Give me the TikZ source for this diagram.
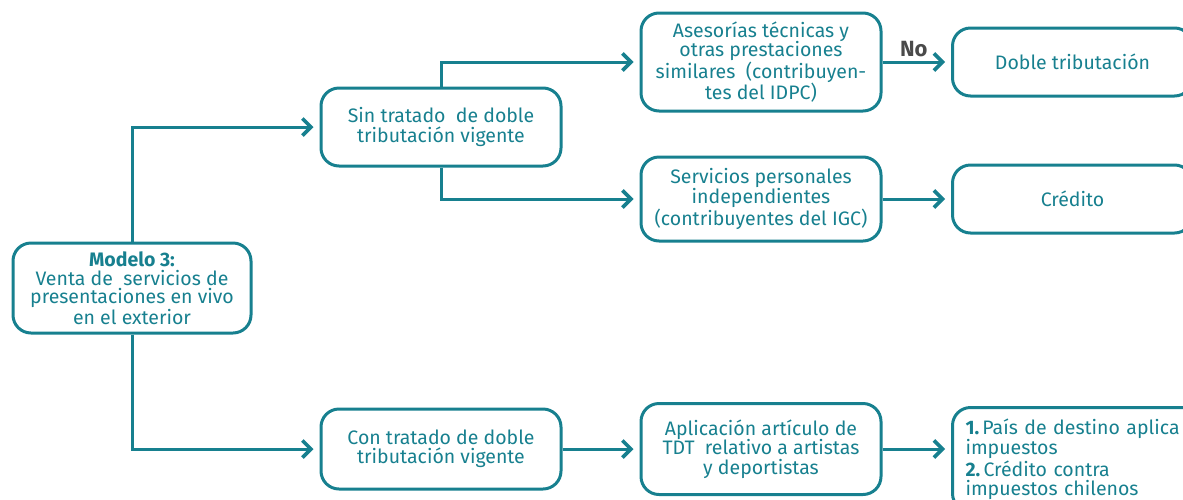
\documentclass[tikz,border=0pt]{standalone}
\usepackage{fontspec}
\setmainfont{Fira Sans}
\usetikzlibrary{positioning, arrows.meta}
\definecolor{petrol}{HTML}{17808F}
\definecolor{nogray}{HTML}{4A4A4A}

\begin{document}
\begin{tikzpicture}[x=1pt, y=-1pt,
    caja/.style={rectangle, rounded corners=18pt, draw=petrol, line width=3pt, text=petrol, align=center, minimum width=240pt, inner sep=1pt, font=\fontsize{19.5}{19.5}\selectfont},
    flecha/.style={draw=petrol, line width=3pt, shorten >=6pt, -{Straight Barb[length=8.5pt, width=17pt, line width=3.6pt]}}]
    \useasboundingbox (0,0) rectangle (1183,499);
    \clip (0,0) rectangle (1183,499);

    \node[caja, minimum height=90pt, minimum width=238pt, font=\fontsize{19.5}{18.7}\selectfont] (modelo) at (132,288) {\textbf{Modelo 3:}\\Venta de~ servicios de\\presentaciones en vivo\\en el exterior};
    \node[caja, minimum height=78pt] (sin) at (441,127) {Sin tratado~ de doble\\tributación vigente};
    \node[caja, minimum height=80pt] (con) at (441,449) {Con tratado de doble\\tributación vigente};

    \node[caja, minimum height=98pt] (ases) at (761,62) {Asesorías técnicas y\\otras prestaciones\\similares~ (contribuyen-\\tes del IDPC)};
    \node[caja, minimum height=84pt] (serv) at (761,199) {Servicios personales\\independientes\\(contribuyentes del IGC)};
    \node[caja, minimum height=91pt] (apl) at (761,449) {Aplicación artículo de\\TDT~ relativo a artistas\\y deportistas};

    \node[caja, minimum height=68pt, minimum width=240pt, anchor=west] (doble) at (951,62) {Doble tributación};
    \node[caja, minimum height=68pt, minimum width=240pt, anchor=west] (cred) at (951,199) {Crédito};
    \node[caja, minimum height=104pt, text width=230pt, align=left, anchor=north west, inner xsep=13pt, inner ysep=5pt] (dest) at (951,406) {\textbf{1.}\,País de destino aplica\\impuestos\\[1pt]\textbf{2.}\,Crédito contra\\impuestos chilenos};

    \draw[flecha] (modelo.north) |- (sin.west);
    \draw[flecha] (modelo.south) |- (con.west);
    \draw[flecha] (sin.north) |- (ases.west);
    \draw[flecha] (sin.south) |- (serv.west);
    \draw[flecha] (ases) -- node[above=0pt, text=nogray, font=\fontsize{22}{22}\selectfont\bfseries, xshift=-3pt] {No} (doble);
    \draw[flecha] (serv) -- (cred);
    \draw[flecha] (con) -- (apl);
    \draw[flecha] (apl.east) -- (apl.east -| dest.west);
\end{tikzpicture}
\end{document}
